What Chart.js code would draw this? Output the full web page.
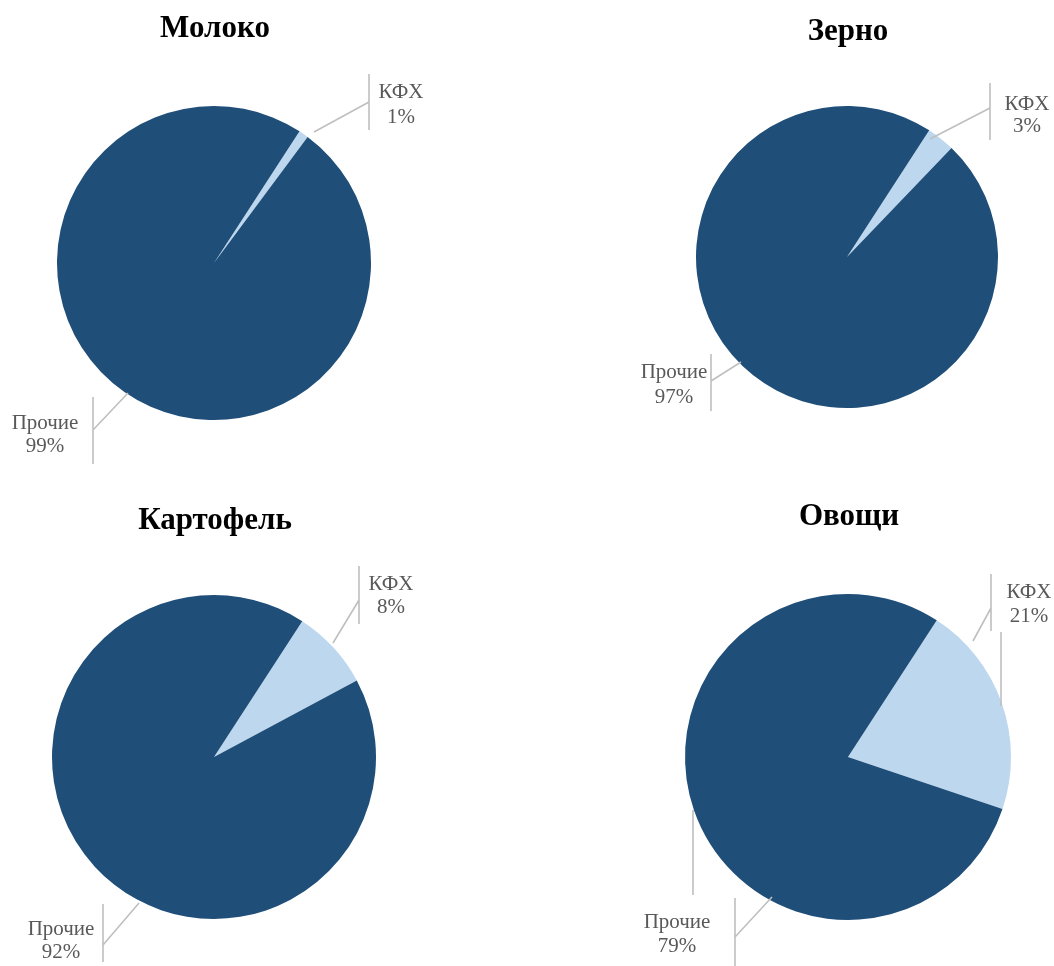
<!DOCTYPE html>
<html>
<head>
<meta charset="utf-8">
<script src="https://cdn.jsdelivr.net/npm/chart.js@4/dist/chart.umd.min.js"></script>
<style>
  html, body { margin: 0; padding: 0; background: #fff; }
  body { width: 1054px; height: 966px; position: relative; overflow: hidden; }
  .cell { position: absolute; width: 527px; height: 483px; }
</style>
</head>
<body>
<div class="cell" style="left:0;top:0"><canvas id="c0"></canvas></div>
<div class="cell" style="left:527px;top:0"><canvas id="c1"></canvas></div>
<div class="cell" style="left:0;top:483px"><canvas id="c2"></canvas></div>
<div class="cell" style="left:527px;top:483px"><canvas id="c3"></canvas></div>
<script>
// ---- data ----
const categories = ['КФХ', 'Прочие'];
const titles = ['Молоко', 'Зерно', 'Картофель', 'Овощи'];
const milkValues = [1, 99];
const grainValues = [3, 97];
const potatoValues = [8, 92];
const vegValues = [21, 79];
const seriesValues = [milkValues, grainValues, potatoValues, vegValues];

// ---- styling / layout ----
const sliceColors = ['#BDD7EE', '#1F4E79'];
const paddings = [
  {left: 57, right: 156, top: 106, bottom: 63},
  {left: 169, right: 56, top: 106, bottom: 75},
  {left: 52, right: 151, top: 112, bottom: 47},
  {left: 158, right: 43, top: 111, bottom: 46}
];
const titleBaselines = [37, 40, 46, 42];
// label layout relative to pie centre (px): text x, two baselines, bar x/y1/y2, leader segment, optional extra segment
const labelLayouts = [
  [
    {tx: 187, ty: [-165, -140], bar: [155, -189, -133], line: [100, -131, 155, -161]},
    {tx: -169, ty: [166, 189], bar: [-121, 134, 201], line: [-86, 130, -121, 167]}
  ],
  [
    {tx: 180, ty: [-147, -125], bar: [143, -174, -117], line: [83, -118, 143, -149]},
    {tx: -173, ty: [121, 146], bar: [-136, 97, 154], line: [-106, 105, -136, 124]}
  ],
  [
    {tx: 177, ty: [-167, -144], bar: [145, -191, -133], line: [119, -114, 145, -157]},
    {tx: -153, ty: [178, 201], bar: [-111, 147, 205], line: [-75, 146, -111, 188]}
  ],
  [
    {tx: 181, ty: [-159, -135], bar: [143, -183, -126], line: [125, -116, 143, -149], extra: [153, -125, 153, -51]},
    {tx: -171, ty: [171, 195], bar: [-113, 141, 209], line: [-76, 140, -113, 180], extra: [-155, 53, -155, 138]}
  ]
];

const piePlugin = {
  id: 'pieDecor',
  afterDraw(chart) {
    const idx = chart.options.plugins.pieDecor.index;
    const ctx = chart.ctx;
    const arc = chart.getDatasetMeta(0).data[0];
    const cx = arc.x, cy = arc.y;
    ctx.save();
    // title
    ctx.fillStyle = '#000';
    ctx.font = 'bold 31px "Liberation Serif", "Times New Roman", serif';
    ctx.textAlign = 'center';
    ctx.textBaseline = 'alphabetic';
    ctx.fillText(titles[idx], cx + 1, titleBaselines[idx]);
    // labels
    const vals = chart.data.datasets[0].data;
    labelLayouts[idx].forEach((L, i) => {
      ctx.strokeStyle = '#BFBFBF';
      ctx.lineWidth = 1.6;
      ctx.beginPath();
      ctx.moveTo(cx + L.line[0], cy + L.line[1]);
      ctx.lineTo(cx + L.line[2], cy + L.line[3]);
      ctx.moveTo(cx + L.bar[0], cy + L.bar[1]);
      ctx.lineTo(cx + L.bar[0], cy + L.bar[2]);
      if (L.extra) {
        ctx.moveTo(cx + L.extra[0], cy + L.extra[1]);
        ctx.lineTo(cx + L.extra[2], cy + L.extra[3]);
      }
      ctx.stroke();
      ctx.fillStyle = '#595959';
      ctx.font = '21px "Liberation Serif", "Times New Roman", serif';
      ctx.textAlign = 'center';
      ctx.fillText(chart.data.labels[i], cx + L.tx, cy + L.ty[0]);
      ctx.fillText(vals[i] + '%', cx + L.tx, cy + L.ty[1]);
    });
    ctx.restore();
  }
};

seriesValues.forEach((vals, idx) => {
  new Chart(document.getElementById('c' + idx), {
    type: 'pie',
    data: {
      labels: categories,
      datasets: [{
        data: vals,
        backgroundColor: sliceColors,
        borderWidth: 0,
        hoverBorderWidth: 0,
        hoverOffset: 0
      }]
    },
    options: {
      responsive: true,
      maintainAspectRatio: false,
      animation: false,
      rotation: 33,
      layout: {padding: paddings[idx]},
      events: [],
      plugins: {
        legend: {display: false},
        tooltip: {enabled: false},
        title: {display: false},
        pieDecor: {index: idx}
      }
    },
    plugins: [piePlugin]
  });
});
</script>
</body>
</html>
